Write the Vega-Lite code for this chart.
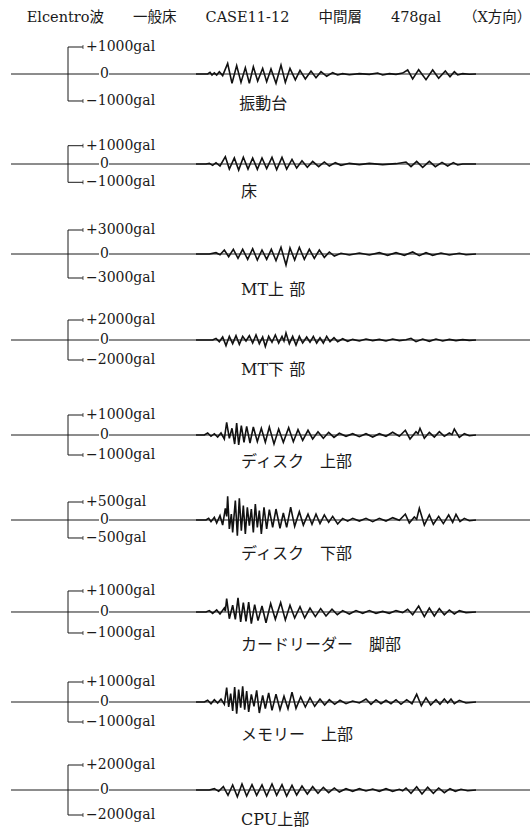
{
"$schema": "https://vega.github.io/schema/vega-lite/v6.json",
"padding": {"left": 10, "top": 9, "right": 0, "bottom": 0},
"autosize": {"type": "pad"},
"spacing": 0,
"bounds": "flush",
"background": "white",
"title": {"text": "Elcentro波　　一般床　　CASE11-12　　中間層　　478gal　　（X方向）", "font": "DejaVu Serif, Noto Sans CJK JP", "fontSize": 14.5, "fontWeight": "normal", "color": "#1a1a1a", "anchor": "middle", "offset": 4, "dx": 8},
"datasets": {
"w1": [{"t":0,"a":0},{"t":35,"a":0},{"t":42,"a":60},{"t":48,"a":-40},{"t":55,"a":40},{"t":62,"a":-40},{"t":70,"a":85},{"t":80,"a":-60},{"t":95,"a":390},{"t":108,"a":-345},{"t":122,"a":310},{"t":135,"a":-310},{"t":148,"a":235},{"t":160,"a":-345},{"t":172,"a":270},{"t":185,"a":-260},{"t":200,"a":210},{"t":212,"a":-285},{"t":225,"a":185},{"t":240,"a":-345},{"t":255,"a":330},{"t":268,"a":-310},{"t":282,"a":210},{"t":298,"a":-220},{"t":312,"a":135},{"t":328,"a":-185},{"t":345,"a":110},{"t":360,"a":-135},{"t":375,"a":85},{"t":392,"a":-85},{"t":410,"a":50},{"t":425,"a":-35},{"t":440,"a":12},{"t":460,"a":-25},{"t":490,"a":12},{"t":520,"a":-12},{"t":545,"a":35},{"t":560,"a":-35},{"t":580,"a":12},{"t":600,"a":-15},{"t":620,"a":35},{"t":635,"a":150},{"t":650,"a":-185},{"t":668,"a":160},{"t":690,"a":-210},{"t":710,"a":150},{"t":728,"a":-160},{"t":748,"a":110},{"t":762,"a":-100},{"t":775,"a":85},{"t":785,"a":-35},{"t":800,"a":12},{"t":820,"a":-10},{"t":840,"a":0}],
"w2": [{"t":0,"a":0},{"t":30,"a":0},{"t":40,"a":36},{"t":50,"a":-73},{"t":60,"a":73},{"t":72,"a":-110},{"t":88,"a":400},{"t":100,"a":-275},{"t":115,"a":330},{"t":128,"a":-330},{"t":142,"a":365},{"t":156,"a":-275},{"t":170,"a":330},{"t":184,"a":-290},{"t":198,"a":330},{"t":212,"a":-255},{"t":228,"a":365},{"t":242,"a":-310},{"t":258,"a":365},{"t":272,"a":-275},{"t":288,"a":255},{"t":302,"a":-220},{"t":318,"a":180},{"t":334,"a":-180},{"t":350,"a":145},{"t":368,"a":-145},{"t":385,"a":110},{"t":400,"a":-110},{"t":418,"a":73},{"t":435,"a":-73},{"t":460,"a":36},{"t":490,"a":-36},{"t":520,"a":36},{"t":560,"a":-36},{"t":600,"a":18},{"t":630,"a":110},{"t":645,"a":-145},{"t":662,"a":145},{"t":680,"a":-180},{"t":700,"a":145},{"t":718,"a":-145},{"t":738,"a":90},{"t":755,"a":-110},{"t":772,"a":73},{"t":785,"a":-55},{"t":800,"a":0},{"t":840,"a":0}],
"w3": [{"t":0,"a":0},{"t":40,"a":0},{"t":60,"a":165},{"t":72,"a":-85},{"t":85,"a":500},{"t":98,"a":-335},{"t":112,"a":585},{"t":126,"a":-540},{"t":140,"a":585},{"t":155,"a":-670},{"t":170,"a":670},{"t":184,"a":-750},{"t":198,"a":500},{"t":212,"a":-670},{"t":226,"a":585},{"t":240,"a":-835},{"t":255,"a":835},{"t":270,"a":-1375},{"t":282,"a":750},{"t":296,"a":-750},{"t":310,"a":835},{"t":325,"a":-670},{"t":340,"a":585},{"t":355,"a":-540},{"t":370,"a":500},{"t":385,"a":-420},{"t":400,"a":250},{"t":415,"a":-250},{"t":435,"a":85},{"t":460,"a":-125},{"t":490,"a":125},{"t":520,"a":-125},{"t":550,"a":165},{"t":575,"a":-165},{"t":600,"a":165},{"t":625,"a":-165},{"t":650,"a":250},{"t":670,"a":-210},{"t":690,"a":165},{"t":710,"a":-165},{"t":735,"a":125},{"t":760,"a":-125},{"t":790,"a":85},{"t":810,"a":-85},{"t":840,"a":0}],
"w4": [{"t":0,"a":0},{"t":50,"a":0},{"t":60,"a":165},{"t":70,"a":-165},{"t":80,"a":300},{"t":90,"a":-560},{"t":100,"a":365},{"t":110,"a":-365},{"t":120,"a":430},{"t":130,"a":-430},{"t":140,"a":365},{"t":150,"a":-100},{"t":160,"a":430},{"t":170,"a":-300},{"t":180,"a":500},{"t":190,"a":-365},{"t":200,"a":300},{"t":208,"a":-660},{"t":218,"a":365},{"t":228,"a":-230},{"t":238,"a":500},{"t":248,"a":-300},{"t":258,"a":365},{"t":264,"a":-100},{"t":270,"a":700},{"t":280,"a":-365},{"t":290,"a":365},{"t":300,"a":-500},{"t":310,"a":365},{"t":320,"a":-300},{"t":332,"a":300},{"t":342,"a":-230},{"t":352,"a":365},{"t":362,"a":-300},{"t":372,"a":230},{"t":382,"a":-300},{"t":392,"a":365},{"t":402,"a":-165},{"t":414,"a":230},{"t":425,"a":-165},{"t":440,"a":130},{"t":455,"a":-130},{"t":470,"a":65},{"t":490,"a":-100},{"t":510,"a":100},{"t":530,"a":-65},{"t":550,"a":65},{"t":570,"a":-100},{"t":590,"a":100},{"t":610,"a":-65},{"t":630,"a":33},{"t":645,"a":165},{"t":660,"a":-165},{"t":680,"a":100},{"t":700,"a":-130},{"t":720,"a":100},{"t":740,"a":-100},{"t":760,"a":65},{"t":780,"a":-65},{"t":800,"a":33},{"t":820,"a":-33},{"t":840,"a":0}],
"w5": [{"t":0,"a":0},{"t":25,"a":0},{"t":35,"a":100},{"t":45,"a":-65},{"t":55,"a":65},{"t":65,"a":-100},{"t":75,"a":100},{"t":85,"a":-200},{"t":92,"a":635},{"t":100,"a":-165},{"t":108,"a":335},{"t":116,"a":-450},{"t":122,"a":600},{"t":128,"a":-500},{"t":136,"a":465},{"t":144,"a":-365},{"t":152,"a":435},{"t":162,"a":-400},{"t":172,"a":400},{"t":184,"a":-335},{"t":196,"a":335},{"t":208,"a":-365},{"t":220,"a":400},{"t":234,"a":-450},{"t":248,"a":300},{"t":262,"a":-365},{"t":278,"a":365},{"t":292,"a":-335},{"t":306,"a":265},{"t":320,"a":-265},{"t":336,"a":235},{"t":350,"a":-200},{"t":366,"a":165},{"t":382,"a":-165},{"t":398,"a":135},{"t":414,"a":-120},{"t":430,"a":85},{"t":450,"a":-65},{"t":470,"a":65},{"t":490,"a":-85},{"t":510,"a":65},{"t":530,"a":-100},{"t":550,"a":65},{"t":570,"a":-65},{"t":590,"a":135},{"t":610,"a":-65},{"t":628,"a":235},{"t":642,"a":-200},{"t":660,"a":165},{"t":666,"a":60},{"t":672,"a":335},{"t":685,"a":-165},{"t":700,"a":135},{"t":715,"a":-100},{"t":730,"a":165},{"t":745,"a":-65},{"t":760,"a":100},{"t":768,"a":20},{"t":775,"a":300},{"t":790,"a":-120},{"t":805,"a":65},{"t":820,"a":-35},{"t":840,"a":0}],
"w6": [{"t":0,"a":0},{"t":30,"a":0},{"t":38,"a":45},{"t":45,"a":-45},{"t":55,"a":75},{"t":62,"a":-85},{"t":72,"a":120},{"t":80,"a":-140},{"t":88,"a":325},{"t":92,"a":100},{"t":95,"a":660},{"t":100,"a":-250},{"t":106,"a":165},{"t":110,"a":-345},{"t":118,"a":540},{"t":124,"a":-435},{"t":130,"a":605},{"t":136,"a":-300},{"t":142,"a":400},{"t":148,"a":-390},{"t":154,"a":355},{"t":160,"a":-160},{"t":166,"a":305},{"t":172,"a":-345},{"t":178,"a":445},{"t":184,"a":-205},{"t":190,"a":260},{"t":196,"a":-390},{"t":204,"a":355},{"t":212,"a":-250},{"t":220,"a":290},{"t":230,"a":-205},{"t":240,"a":305},{"t":252,"a":-230},{"t":262,"a":195},{"t":272,"a":-205},{"t":284,"a":355},{"t":296,"a":-175},{"t":310,"a":230},{"t":322,"a":-140},{"t":336,"a":165},{"t":348,"a":-120},{"t":360,"a":165},{"t":372,"a":-100},{"t":385,"a":140},{"t":398,"a":-65},{"t":410,"a":100},{"t":425,"a":-110},{"t":440,"a":45},{"t":455,"a":-30},{"t":470,"a":45},{"t":490,"a":-30},{"t":510,"a":45},{"t":530,"a":-45},{"t":550,"a":45},{"t":570,"a":-30},{"t":590,"a":65},{"t":610,"a":-10},{"t":628,"a":165},{"t":640,"a":-85},{"t":655,"a":85},{"t":662,"a":20},{"t":670,"a":325},{"t":685,"a":-140},{"t":700,"a":140},{"t":712,"a":-120},{"t":728,"a":100},{"t":742,"a":-100},{"t":758,"a":140},{"t":770,"a":-65},{"t":780,"a":160},{"t":792,"a":-45},{"t":805,"a":45},{"t":820,"a":-20},{"t":840,"a":0}],
"w7": [{"t":0,"a":0},{"t":30,"a":0},{"t":40,"a":65},{"t":50,"a":-65},{"t":62,"a":95},{"t":72,"a":-95},{"t":85,"a":190},{"t":88,"a":40},{"t":92,"a":635},{"t":100,"a":-320},{"t":110,"a":320},{"t":118,"a":-350},{"t":126,"a":670},{"t":134,"a":-475},{"t":142,"a":445},{"t":150,"a":-445},{"t":158,"a":475},{"t":166,"a":-555},{"t":176,"a":350},{"t":186,"a":-410},{"t":198,"a":285},{"t":210,"a":-510},{"t":224,"a":400},{"t":238,"a":-350},{"t":254,"a":445},{"t":268,"a":-380},{"t":282,"a":320},{"t":296,"a":-285},{"t":312,"a":255},{"t":326,"a":-285},{"t":342,"a":190},{"t":358,"a":-220},{"t":374,"a":160},{"t":390,"a":-190},{"t":408,"a":130},{"t":424,"a":-130},{"t":440,"a":65},{"t":460,"a":-95},{"t":480,"a":65},{"t":500,"a":-65},{"t":520,"a":65},{"t":540,"a":-65},{"t":560,"a":30},{"t":580,"a":-65},{"t":600,"a":65},{"t":620,"a":-30},{"t":635,"a":130},{"t":650,"a":-130},{"t":668,"a":285},{"t":685,"a":-220},{"t":700,"a":190},{"t":715,"a":-190},{"t":730,"a":160},{"t":745,"a":-130},{"t":760,"a":95},{"t":775,"a":-95},{"t":790,"a":65},{"t":810,"a":-30},{"t":840,"a":0}],
"w8": [{"t":0,"a":0},{"t":25,"a":0},{"t":35,"a":85},{"t":45,"a":-85},{"t":55,"a":115},{"t":65,"a":-50},{"t":75,"a":150},{"t":85,"a":-115},{"t":92,"a":720},{"t":98,"a":-250},{"t":104,"a":420},{"t":110,"a":-450},{"t":116,"a":750},{"t":122,"a":-585},{"t":128,"a":620},{"t":134,"a":-285},{"t":140,"a":785},{"t":146,"a":-385},{"t":152,"a":550},{"t":158,"a":-500},{"t":166,"a":385},{"t":174,"a":-215},{"t":182,"a":585},{"t":190,"a":-550},{"t":200,"a":335},{"t":208,"a":-335},{"t":218,"a":450},{"t":228,"a":-420},{"t":240,"a":385},{"t":252,"a":-385},{"t":264,"a":285},{"t":276,"a":-335},{"t":288,"a":485},{"t":300,"a":-320},{"t":314,"a":250},{"t":328,"a":-250},{"t":342,"a":215},{"t":356,"a":-215},{"t":372,"a":150},{"t":386,"a":-150},{"t":400,"a":115},{"t":416,"a":-115},{"t":432,"a":85},{"t":450,"a":-85},{"t":470,"a":50},{"t":490,"a":-50},{"t":510,"a":150},{"t":525,"a":-115},{"t":540,"a":115},{"t":555,"a":-85},{"t":570,"a":85},{"t":585,"a":-85},{"t":600,"a":115},{"t":615,"a":-115},{"t":632,"a":115},{"t":648,"a":-85},{"t":662,"a":385},{"t":676,"a":-185},{"t":690,"a":215},{"t":704,"a":-150},{"t":720,"a":115},{"t":732,"a":-115},{"t":745,"a":150},{"t":755,"a":-50},{"t":765,"a":150},{"t":775,"a":-85},{"t":790,"a":85},{"t":810,"a":-50},{"t":840,"a":0}],
"w9": [{"t":0,"a":0},{"t":40,"a":0},{"t":55,"a":105},{"t":68,"a":-105},{"t":82,"a":265},{"t":96,"a":-425},{"t":110,"a":400},{"t":124,"a":-535},{"t":138,"a":480},{"t":152,"a":-480},{"t":168,"a":425},{"t":182,"a":-425},{"t":198,"a":400},{"t":212,"a":-480},{"t":228,"a":480},{"t":242,"a":-425},{"t":258,"a":425},{"t":272,"a":-480},{"t":288,"a":375},{"t":302,"a":-400},{"t":318,"a":320},{"t":334,"a":-320},{"t":350,"a":265},{"t":366,"a":-265},{"t":382,"a":215},{"t":398,"a":-215},{"t":415,"a":160},{"t":430,"a":-160},{"t":450,"a":105},{"t":470,"a":-105},{"t":490,"a":105},{"t":510,"a":-80},{"t":530,"a":80},{"t":550,"a":-105},{"t":570,"a":105},{"t":590,"a":-105},{"t":610,"a":55},{"t":620,"a":-60},{"t":630,"a":160},{"t":645,"a":-265},{"t":662,"a":265},{"t":678,"a":-320},{"t":695,"a":215},{"t":712,"a":-265},{"t":728,"a":160},{"t":745,"a":-215},{"t":762,"a":105},{"t":778,"a":-105},{"t":795,"a":55},{"t":815,"a":-55},{"t":840,"a":0}]
},
"vconcat": [
{"width": 520, "height": 90, "data": {"values": [{}]}, "layer": [
{"mark": "rule", "encoding": {"x": {"datum": -555}, "x2": {"datum": -291}, "y": {"datum": 0}}},
{"mark": "rule", "encoding": {"x": {"datum": -261}, "x2": {"datum": 1005}, "y": {"datum": 0}}},
{"mark": "rule", "encoding": {"x": {"datum": -384}, "y": {"datum": -1000}, "y2": {"datum": 1000}}},
{"mark": "rule", "encoding": {"x": {"datum": -384}, "x2": {"datum": -339}, "y": {"datum": 1000}}},
{"mark": "rule", "encoding": {"x": {"datum": -384}, "x2": {"datum": -339}, "y": {"datum": -1000}}},
{"mark": "tick", "encoding": {"x": {"datum": -339}, "y": {"datum": 1000}}},
{"mark": "tick", "encoding": {"x": {"datum": -339}, "y": {"datum": -1000}}},
{"mark": {"type": "text", "text": "+1000gal", "align": "left"}, "encoding": {"x": {"datum": -330}, "y": {"datum": 1000}}},
{"mark": {"type": "text", "text": "−1000gal", "align": "left"}, "encoding": {"x": {"datum": -330}, "y": {"datum": -1000}}},
{"mark": {"type": "text", "text": "0"}, "encoding": {"x": {"datum": -275}, "y": {"datum": 0}}},
{"mark": {"type": "text", "text": "振動台", "align": "left", "fontSize": 16, "dy": 30}, "encoding": {"x": {"datum": 130}, "y": {"datum": 0}}},
{"data": {"name": "w1"}, "mark": "line", "encoding": {"x": {"field": "t", "type": "quantitative", "scale": {"domain": [-555, 1005], "nice": false, "zero": false}, "axis": null}, "y": {"field": "a", "type": "quantitative", "scale": {"domain": [-1667, 1667], "nice": false, "zero": false}, "axis": null}}}
]},
{"width": 520, "height": 90, "data": {"values": [{}]}, "layer": [
{"mark": "rule", "encoding": {"x": {"datum": -555}, "x2": {"datum": -291}, "y": {"datum": 0}}},
{"mark": "rule", "encoding": {"x": {"datum": -261}, "x2": {"datum": 1005}, "y": {"datum": 0}}},
{"mark": "rule", "encoding": {"x": {"datum": -384}, "y": {"datum": -1000}, "y2": {"datum": 1000}}},
{"mark": "rule", "encoding": {"x": {"datum": -384}, "x2": {"datum": -339}, "y": {"datum": 1000}}},
{"mark": "rule", "encoding": {"x": {"datum": -384}, "x2": {"datum": -339}, "y": {"datum": -1000}}},
{"mark": "tick", "encoding": {"x": {"datum": -339}, "y": {"datum": 1000}}},
{"mark": "tick", "encoding": {"x": {"datum": -339}, "y": {"datum": -1000}}},
{"mark": {"type": "text", "text": "+1000gal", "align": "left"}, "encoding": {"x": {"datum": -330}, "y": {"datum": 1000}}},
{"mark": {"type": "text", "text": "−1000gal", "align": "left"}, "encoding": {"x": {"datum": -330}, "y": {"datum": -1000}}},
{"mark": {"type": "text", "text": "0"}, "encoding": {"x": {"datum": -275}, "y": {"datum": 0}}},
{"mark": {"type": "text", "text": "床", "align": "left", "fontSize": 16, "dy": 28}, "encoding": {"x": {"datum": 135}, "y": {"datum": 0}}},
{"data": {"name": "w2"}, "mark": "line", "encoding": {"x": {"field": "t", "type": "quantitative", "scale": {"domain": [-555, 1005], "nice": false, "zero": false}, "axis": null}, "y": {"field": "a", "type": "quantitative", "scale": {"domain": [-2459, 2459], "nice": false, "zero": false}, "axis": null}}}
]},
{"width": 520, "height": 88, "data": {"values": [{}]}, "layer": [
{"mark": "rule", "encoding": {"x": {"datum": -555}, "x2": {"datum": -291}, "y": {"datum": 0}}},
{"mark": "rule", "encoding": {"x": {"datum": -261}, "x2": {"datum": 1005}, "y": {"datum": 0}}},
{"mark": "rule", "encoding": {"x": {"datum": -384}, "y": {"datum": -3000}, "y2": {"datum": 3000}}},
{"mark": "rule", "encoding": {"x": {"datum": -384}, "x2": {"datum": -339}, "y": {"datum": 3000}}},
{"mark": "rule", "encoding": {"x": {"datum": -384}, "x2": {"datum": -339}, "y": {"datum": -3000}}},
{"mark": "tick", "encoding": {"x": {"datum": -339}, "y": {"datum": 3000}}},
{"mark": "tick", "encoding": {"x": {"datum": -339}, "y": {"datum": -3000}}},
{"mark": {"type": "text", "text": "+3000gal", "align": "left"}, "encoding": {"x": {"datum": -330}, "y": {"datum": 3000}}},
{"mark": {"type": "text", "text": "−3000gal", "align": "left"}, "encoding": {"x": {"datum": -330}, "y": {"datum": -3000}}},
{"mark": {"type": "text", "text": "0"}, "encoding": {"x": {"datum": -275}, "y": {"datum": 0}}},
{"mark": {"type": "text", "text": "MT上 部", "align": "left", "fontSize": 16, "dy": 36}, "encoding": {"x": {"datum": 135}, "y": {"datum": 0}}},
{"data": {"name": "w3"}, "mark": "line", "encoding": {"x": {"field": "t", "type": "quantitative", "scale": {"domain": [-555, 1005], "nice": false, "zero": false}, "axis": null}, "y": {"field": "a", "type": "quantitative", "scale": {"domain": [-5375, 5625], "nice": false, "zero": false}, "axis": null}}}
]},
{"width": 520, "height": 91, "data": {"values": [{}]}, "layer": [
{"mark": "rule", "encoding": {"x": {"datum": -555}, "x2": {"datum": -291}, "y": {"datum": 0}}},
{"mark": "rule", "encoding": {"x": {"datum": -261}, "x2": {"datum": 1005}, "y": {"datum": 0}}},
{"mark": "rule", "encoding": {"x": {"datum": -384}, "y": {"datum": -2000}, "y2": {"datum": 2000}}},
{"mark": "rule", "encoding": {"x": {"datum": -384}, "x2": {"datum": -339}, "y": {"datum": 2000}}},
{"mark": "rule", "encoding": {"x": {"datum": -384}, "x2": {"datum": -339}, "y": {"datum": -2000}}},
{"mark": "tick", "encoding": {"x": {"datum": -339}, "y": {"datum": 2000}}},
{"mark": "tick", "encoding": {"x": {"datum": -339}, "y": {"datum": -2000}}},
{"mark": {"type": "text", "text": "+2000gal", "align": "left"}, "encoding": {"x": {"datum": -330}, "y": {"datum": 2000}}},
{"mark": {"type": "text", "text": "−2000gal", "align": "left"}, "encoding": {"x": {"datum": -330}, "y": {"datum": -2000}}},
{"mark": {"type": "text", "text": "0"}, "encoding": {"x": {"datum": -275}, "y": {"datum": 0}}},
{"mark": {"type": "text", "text": "MT下 部", "align": "left", "fontSize": 16, "dy": 30}, "encoding": {"x": {"datum": 135}, "y": {"datum": 0}}},
{"data": {"name": "w4"}, "mark": "line", "encoding": {"x": {"field": "t", "type": "quantitative", "scale": {"domain": [-555, 1005], "nice": false, "zero": false}, "axis": null}, "y": {"field": "a", "type": "quantitative", "scale": {"domain": [-4800, 4300], "nice": false, "zero": false}, "axis": null}}}
]},
{"width": 520, "height": 90, "data": {"values": [{}]}, "layer": [
{"mark": "rule", "encoding": {"x": {"datum": -555}, "x2": {"datum": -291}, "y": {"datum": 0}}},
{"mark": "rule", "encoding": {"x": {"datum": -261}, "x2": {"datum": 1005}, "y": {"datum": 0}}},
{"mark": "rule", "encoding": {"x": {"datum": -384}, "y": {"datum": -1000}, "y2": {"datum": 1000}}},
{"mark": "rule", "encoding": {"x": {"datum": -384}, "x2": {"datum": -339}, "y": {"datum": 1000}}},
{"mark": "rule", "encoding": {"x": {"datum": -384}, "x2": {"datum": -339}, "y": {"datum": -1000}}},
{"mark": "tick", "encoding": {"x": {"datum": -339}, "y": {"datum": 1000}}},
{"mark": "tick", "encoding": {"x": {"datum": -339}, "y": {"datum": -1000}}},
{"mark": {"type": "text", "text": "+1000gal", "align": "left"}, "encoding": {"x": {"datum": -330}, "y": {"datum": 1000}}},
{"mark": {"type": "text", "text": "−1000gal", "align": "left"}, "encoding": {"x": {"datum": -330}, "y": {"datum": -1000}}},
{"mark": {"type": "text", "text": "0"}, "encoding": {"x": {"datum": -275}, "y": {"datum": 0}}},
{"mark": {"type": "text", "text": "ディスク　上部", "align": "left", "fontSize": 16, "dy": 27}, "encoding": {"x": {"datum": 135}, "y": {"datum": 0}}},
{"data": {"name": "w5"}, "mark": "line", "encoding": {"x": {"field": "t", "type": "quantitative", "scale": {"domain": [-555, 1005], "nice": false, "zero": false}, "axis": null}, "y": {"field": "a", "type": "quantitative", "scale": {"domain": [-2150, 2350], "nice": false, "zero": false}, "axis": null}}}
]},
{"width": 520, "height": 88, "data": {"values": [{}]}, "layer": [
{"mark": "rule", "encoding": {"x": {"datum": -555}, "x2": {"datum": -291}, "y": {"datum": 0}}},
{"mark": "rule", "encoding": {"x": {"datum": -261}, "x2": {"datum": 1005}, "y": {"datum": 0}}},
{"mark": "rule", "encoding": {"x": {"datum": -384}, "y": {"datum": -500}, "y2": {"datum": 500}}},
{"mark": "rule", "encoding": {"x": {"datum": -384}, "x2": {"datum": -339}, "y": {"datum": 500}}},
{"mark": "rule", "encoding": {"x": {"datum": -384}, "x2": {"datum": -339}, "y": {"datum": -500}}},
{"mark": "tick", "encoding": {"x": {"datum": -339}, "y": {"datum": 500}}},
{"mark": "tick", "encoding": {"x": {"datum": -339}, "y": {"datum": -500}}},
{"mark": {"type": "text", "text": "+500gal", "align": "left"}, "encoding": {"x": {"datum": -330}, "y": {"datum": 500}}},
{"mark": {"type": "text", "text": "−500gal", "align": "left"}, "encoding": {"x": {"datum": -330}, "y": {"datum": -500}}},
{"mark": {"type": "text", "text": "0"}, "encoding": {"x": {"datum": -275}, "y": {"datum": 0}}},
{"mark": {"type": "text", "text": "ディスク　下部", "align": "left", "fontSize": 16, "dy": 34}, "encoding": {"x": {"datum": 135}, "y": {"datum": 0}}},
{"data": {"name": "w6"}, "mark": "line", "encoding": {"x": {"field": "t", "type": "quantitative", "scale": {"domain": [-555, 1005], "nice": false, "zero": false}, "axis": null}, "y": {"field": "a", "type": "quantitative", "scale": {"domain": [-1278, 1167], "nice": false, "zero": false}, "axis": null}}}
]},
{"width": 520, "height": 91, "data": {"values": [{}]}, "layer": [
{"mark": "rule", "encoding": {"x": {"datum": -555}, "x2": {"datum": -291}, "y": {"datum": 0}}},
{"mark": "rule", "encoding": {"x": {"datum": -261}, "x2": {"datum": 1005}, "y": {"datum": 0}}},
{"mark": "rule", "encoding": {"x": {"datum": -384}, "y": {"datum": -1000}, "y2": {"datum": 1000}}},
{"mark": "rule", "encoding": {"x": {"datum": -384}, "x2": {"datum": -339}, "y": {"datum": 1000}}},
{"mark": "rule", "encoding": {"x": {"datum": -384}, "x2": {"datum": -339}, "y": {"datum": -1000}}},
{"mark": "tick", "encoding": {"x": {"datum": -339}, "y": {"datum": 1000}}},
{"mark": "tick", "encoding": {"x": {"datum": -339}, "y": {"datum": -1000}}},
{"mark": {"type": "text", "text": "+1000gal", "align": "left"}, "encoding": {"x": {"datum": -330}, "y": {"datum": 1000}}},
{"mark": {"type": "text", "text": "−1000gal", "align": "left"}, "encoding": {"x": {"datum": -330}, "y": {"datum": -1000}}},
{"mark": {"type": "text", "text": "0"}, "encoding": {"x": {"datum": -275}, "y": {"datum": 0}}},
{"mark": {"type": "text", "text": "カードリーダー　脚部", "align": "left", "fontSize": 16, "dy": 33}, "encoding": {"x": {"datum": 135}, "y": {"datum": 0}}},
{"data": {"name": "w7"}, "mark": "line", "encoding": {"x": {"field": "t", "type": "quantitative", "scale": {"domain": [-555, 1005], "nice": false, "zero": false}, "axis": null}, "y": {"field": "a", "type": "quantitative", "scale": {"domain": [-2143, 2190], "nice": false, "zero": false}, "axis": null}}}
]},
{"width": 520, "height": 89, "data": {"values": [{}]}, "layer": [
{"mark": "rule", "encoding": {"x": {"datum": -555}, "x2": {"datum": -291}, "y": {"datum": 0}}},
{"mark": "rule", "encoding": {"x": {"datum": -261}, "x2": {"datum": 1005}, "y": {"datum": 0}}},
{"mark": "rule", "encoding": {"x": {"datum": -384}, "y": {"datum": -1000}, "y2": {"datum": 1000}}},
{"mark": "rule", "encoding": {"x": {"datum": -384}, "x2": {"datum": -339}, "y": {"datum": 1000}}},
{"mark": "rule", "encoding": {"x": {"datum": -384}, "x2": {"datum": -339}, "y": {"datum": -1000}}},
{"mark": "tick", "encoding": {"x": {"datum": -339}, "y": {"datum": 1000}}},
{"mark": "tick", "encoding": {"x": {"datum": -339}, "y": {"datum": -1000}}},
{"mark": {"type": "text", "text": "+1000gal", "align": "left"}, "encoding": {"x": {"datum": -330}, "y": {"datum": 1000}}},
{"mark": {"type": "text", "text": "−1000gal", "align": "left"}, "encoding": {"x": {"datum": -330}, "y": {"datum": -1000}}},
{"mark": {"type": "text", "text": "0"}, "encoding": {"x": {"datum": -275}, "y": {"datum": 0}}},
{"mark": {"type": "text", "text": "メモリー　上部", "align": "left", "fontSize": 16, "dy": 33}, "encoding": {"x": {"datum": 135}, "y": {"datum": 0}}},
{"data": {"name": "w8"}, "mark": "line", "encoding": {"x": {"field": "t", "type": "quantitative", "scale": {"domain": [-555, 1005], "nice": false, "zero": false}, "axis": null}, "y": {"field": "a", "type": "quantitative", "scale": {"domain": [-2200, 2250], "nice": false, "zero": false}, "axis": null}}}
]},
{"width": 520, "height": 86, "data": {"values": [{}]}, "layer": [
{"mark": "rule", "encoding": {"x": {"datum": -555}, "x2": {"datum": -291}, "y": {"datum": 0}}},
{"mark": "rule", "encoding": {"x": {"datum": -261}, "x2": {"datum": 1005}, "y": {"datum": 0}}},
{"mark": "rule", "encoding": {"x": {"datum": -384}, "y": {"datum": -2000}, "y2": {"datum": 2000}}},
{"mark": "rule", "encoding": {"x": {"datum": -384}, "x2": {"datum": -339}, "y": {"datum": 2000}}},
{"mark": "rule", "encoding": {"x": {"datum": -384}, "x2": {"datum": -339}, "y": {"datum": -2000}}},
{"mark": "tick", "encoding": {"x": {"datum": -339}, "y": {"datum": 2000}}},
{"mark": "tick", "encoding": {"x": {"datum": -339}, "y": {"datum": -2000}}},
{"mark": {"type": "text", "text": "+2000gal", "align": "left"}, "encoding": {"x": {"datum": -330}, "y": {"datum": 2000}}},
{"mark": {"type": "text", "text": "−2000gal", "align": "left"}, "encoding": {"x": {"datum": -330}, "y": {"datum": -2000}}},
{"mark": {"type": "text", "text": "0"}, "encoding": {"x": {"datum": -275}, "y": {"datum": 0}}},
{"mark": {"type": "text", "text": "CPU上部", "align": "left", "fontSize": 16, "dy": 30}, "encoding": {"x": {"datum": 135}, "y": {"datum": 0}}},
{"data": {"name": "w9"}, "mark": "line", "encoding": {"x": {"field": "t", "type": "quantitative", "scale": {"domain": [-555, 1005], "nice": false, "zero": false}, "axis": null}, "y": {"field": "a", "type": "quantitative", "scale": {"domain": [-3360, 3520], "nice": false, "zero": false}, "axis": null}}}
]}
],
"config": {
"view": {"stroke": null},
"axis": {"disable": true},
"rule": {"color": "#1a1a1a", "strokeWidth": 1},
"tick": {"color": "#1a1a1a", "orient": "vertical", "size": 4, "thickness": 1},
"line": {"color": "#111111", "strokeWidth": 1.6},
"text": {"font": "DejaVu Serif, Noto Sans CJK JP", "fontSize": 14, "baseline": "middle", "color": "#1a1a1a"}
}
}
